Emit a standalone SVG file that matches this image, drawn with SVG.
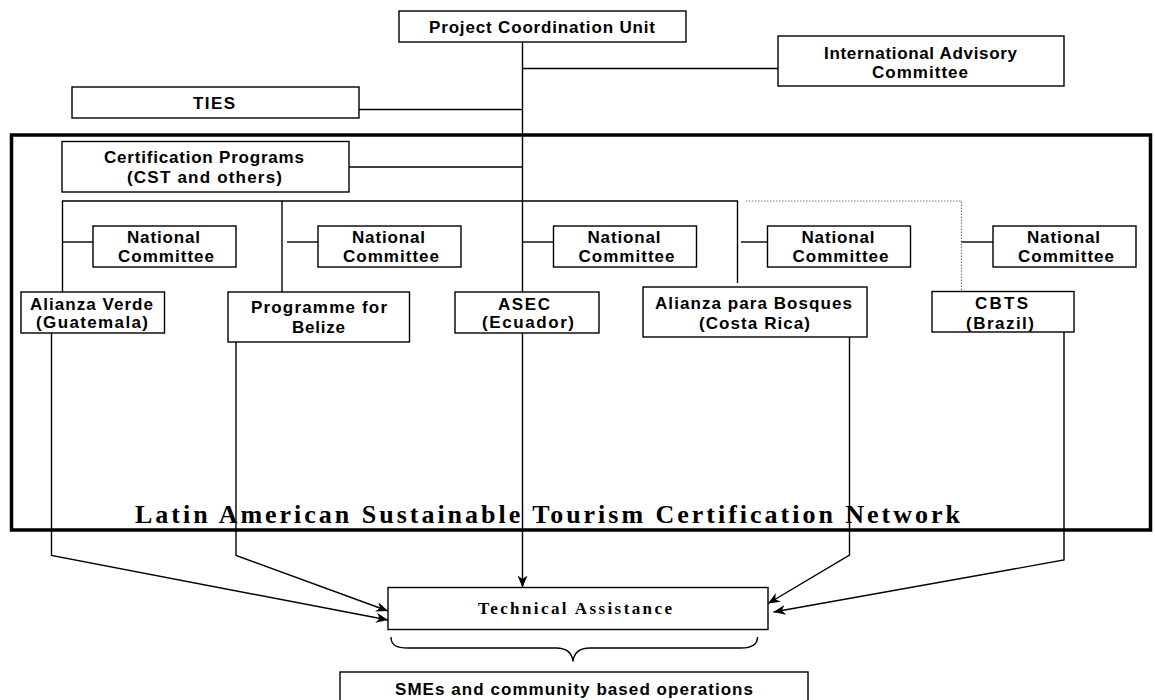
<svg xmlns="http://www.w3.org/2000/svg" width="1155" height="700" viewBox="0 0 1155 700">
<defs>
<marker id="arr" markerUnits="userSpaceOnUse" markerWidth="13" markerHeight="11" refX="12" refY="5" orient="auto">
<path d="M0,0 L12,5 L0,10 L3.5,5 z" fill="#000"/>
</marker>
<style>
.box{fill:#fff;stroke:#000;stroke-width:1.4}
.t{font-family:"Liberation Sans",Arial,sans-serif;font-weight:bold;font-size:17px;fill:#000}
.s{font-family:"Liberation Serif","Times New Roman",serif;font-weight:bold;fill:#000}
.c{fill:none;stroke:#000;stroke-width:1.4}
.d{fill:none;stroke:#777;stroke-width:1.2;stroke-dasharray:1.5 1.5}
</style>
</defs>
<rect width="1155" height="700" fill="#fff"/>
<g id="network-frame">
<rect x="11.5" y="135" width="1139" height="395" fill="none" stroke="#000" stroke-width="3.5"/>
<text class="s" x="135" y="523" font-size="26" textLength="825" lengthAdjust="spacing">Latin American Sustainable Tourism Certification Network</text>
</g>
<g id="connectors">
<line class="c" x1="522.5" y1="42" x2="522.5" y2="292"/>
<line class="c" x1="522.5" y1="68.5" x2="778" y2="68.5"/>
<line class="c" x1="359" y1="109.5" x2="522.5" y2="109.5"/>
<line class="c" x1="349" y1="167" x2="522.5" y2="167"/>
<polyline class="c" points="62.5,292 62.5,201 737.5,201 737.5,283"/>
<line class="c" x1="282" y1="201" x2="282" y2="292"/>
<polyline class="d" points="746,201 961.5,201 961.5,291.5"/>
<line class="c" x1="62.5" y1="242" x2="93" y2="242"/>
<line class="c" x1="287" y1="242" x2="318" y2="242"/>
<line class="c" x1="522.5" y1="242" x2="553.5" y2="242"/>
<line class="c" x1="741" y1="242" x2="767.5" y2="242"/>
<line class="c" x1="961.5" y1="242" x2="993" y2="242"/>
<polyline class="c" points="51.5,333 51.5,555.5 388,620" marker-end="url(#arr)"/>
<polyline class="c" points="236,340 236,555.5 388,611" marker-end="url(#arr)"/>
<line class="c" x1="522.5" y1="333" x2="522.5" y2="587.5" marker-end="url(#arr)"/>
<polyline class="c" points="849.5,334 849.5,555 768,603.5" marker-end="url(#arr)"/>
<polyline class="c" points="1064,332 1064,560 773.5,612" marker-end="url(#arr)"/>
<path class="c" d="M391,637 C391,645 396,648 408,648 L556,648 C566,648 572,652 573,661.5 C574,652 580,648 590,648 L741,648 C752,648 757.5,645 757.5,637"/>
</g>
<g id="pcu"><rect class="box" x="399" y="11" width="287" height="31"/><text class="t" x="429" y="33" textLength="226" lengthAdjust="spacing">Project Coordination Unit</text></g>
<g id="iac"><rect class="box" x="778" y="36" width="286" height="50"/><text class="t" x="824" y="58.5" textLength="193" lengthAdjust="spacing">International Advisory</text><text class="t" x="872" y="77.5" textLength="96" lengthAdjust="spacing">Committee</text></g>
<g id="ties"><rect class="box" x="72" y="87" width="287" height="31"/><text class="t" x="193" y="109" textLength="42" lengthAdjust="spacing">TIES</text></g>
<g id="cert"><rect class="box" x="62" y="141.5" width="287" height="50.5"/><text class="t" x="104" y="163" textLength="200" lengthAdjust="spacing">Certification Programs</text><text class="t" x="127" y="183" textLength="155" lengthAdjust="spacing">(CST and others)</text></g>
<g id="nc1"><rect class="box" x="93" y="226" width="143" height="41"/><text class="t" x="127" y="242.5" textLength="73" lengthAdjust="spacing">National</text><text class="t" x="118" y="262" textLength="96" lengthAdjust="spacing">Committee</text></g>
<g id="nc2"><rect class="box" x="318" y="226" width="143" height="41"/><text class="t" x="352" y="242.5" textLength="73" lengthAdjust="spacing">National</text><text class="t" x="343" y="262" textLength="96" lengthAdjust="spacing">Committee</text></g>
<g id="nc3"><rect class="box" x="553.5" y="226" width="143" height="41"/><text class="t" x="587.5" y="242.5" textLength="73" lengthAdjust="spacing">National</text><text class="t" x="578.5" y="262" textLength="96" lengthAdjust="spacing">Committee</text></g>
<g id="nc4"><rect class="box" x="767.5" y="226" width="143" height="41"/><text class="t" x="801.5" y="242.5" textLength="73" lengthAdjust="spacing">National</text><text class="t" x="792.5" y="262" textLength="96" lengthAdjust="spacing">Committee</text></g>
<g id="nc5"><rect class="box" x="993" y="226" width="143" height="41"/><text class="t" x="1027" y="242.5" textLength="73" lengthAdjust="spacing">National</text><text class="t" x="1018" y="262" textLength="96" lengthAdjust="spacing">Committee</text></g>
<g id="alianza-verde"><rect class="box" x="21" y="292" width="143.5" height="41"/><text class="t" x="30" y="309.5" textLength="123" lengthAdjust="spacing">Alianza Verde</text><text class="t" x="36" y="328" textLength="112" lengthAdjust="spacing">(Guatemala)</text></g>
<g id="belize"><rect class="box" x="228" y="292" width="181.5" height="50"/><text class="t" x="251" y="313" textLength="136" lengthAdjust="spacing">Programme for</text><text class="t" x="292" y="332.5" textLength="53" lengthAdjust="spacing">Belize</text></g>
<g id="asec"><rect class="box" x="455" y="292" width="144" height="41"/><text class="t" x="498" y="309.5" textLength="52" lengthAdjust="spacing">ASEC</text><text class="t" x="482" y="328" textLength="92" lengthAdjust="spacing">(Ecuador)</text></g>
<g id="bosques"><rect class="box" x="643" y="287" width="224" height="50"/><text class="t" x="655" y="308.5" textLength="197" lengthAdjust="spacing">Alianza para Bosques</text><text class="t" x="699" y="328.5" textLength="111" lengthAdjust="spacing">(Costa Rica)</text></g>
<g id="cbts"><rect class="box" x="932" y="291.5" width="142" height="40.5"/><text class="t" x="975" y="308.5" textLength="53" lengthAdjust="spacing">CBTS</text><text class="t" x="966" y="328.5" textLength="68" lengthAdjust="spacing">(Brazil)</text></g>
<g id="ta"><rect class="box" x="388" y="587.5" width="380" height="42"/><text class="s" x="478" y="614" font-size="17" textLength="194" lengthAdjust="spacing">Technical Assistance</text></g>
<g id="smes"><rect class="box" x="340" y="672" width="468" height="40"/><text class="t" x="395" y="695" textLength="358" lengthAdjust="spacing">SMEs and community based operations</text></g>
</svg>
